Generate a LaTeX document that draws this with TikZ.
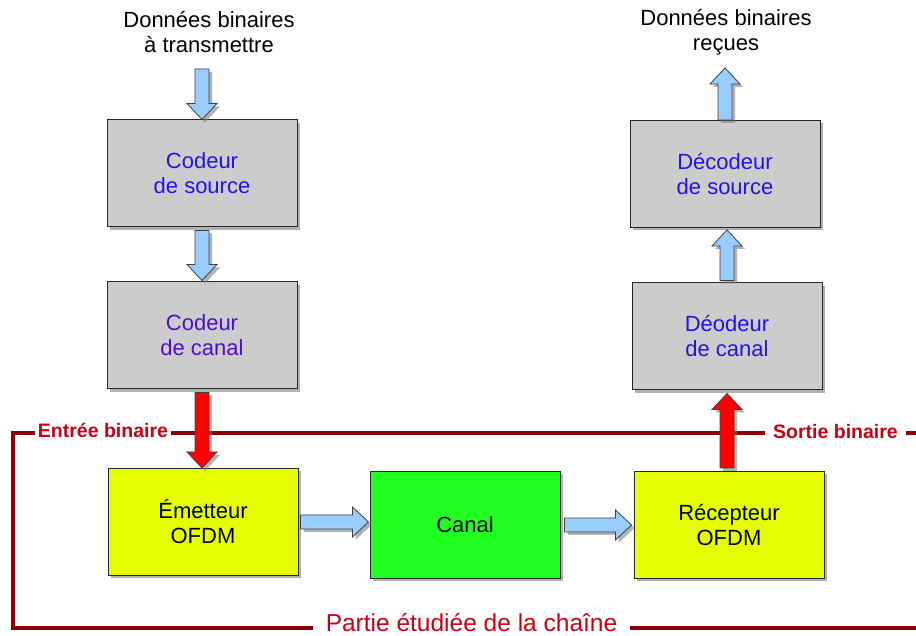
\documentclass[tikz,border=0pt]{standalone}
\usepackage{fontspec}
\setmainfont{Liberation Sans}
\usepackage{tikz}
\usetikzlibrary{calc,shadows}

\definecolor{gris}{RGB}{204,204,204}
\definecolor{jaune}{RGB}{230,255,0}
\definecolor{vert}{RGB}{32,255,32}
\definecolor{bleu}{RGB}{153,204,255}
\definecolor{rouge}{RGB}{255,0,0}
\definecolor{bordeaux}{RGB}{140,0,8}
\definecolor{rougetxt}{RGB}{200,0,24}
\definecolor{bleutxt}{RGB}{36,18,230}
\definecolor{violettxt}{RGB}{78,14,204}

\tikzset{
  ombre/.style={drop shadow={shadow xshift=3pt,shadow yshift=-3pt,fill=black!55,opacity=.55}},
  bloc/.style={draw=black!85, line width=1pt, minimum width=190pt, minimum height=107pt,
    align=center, font=\fontsize{22}{25}\selectfont, ombre},
  texte/.style={align=center, font=\fontsize{22}{25}\selectfont},
  etiq/.style={fill=white, text=rougetxt, anchor=base, inner xsep=3pt,
    font=\fontsize{19.5}{22}\selectfont\bfseries},
  cadre/.style={draw=bordeaux, line width=3.5pt, miter limit=10},
  fleche/.style={draw=black!75, line width=.8pt, fill=#1, ombre,
    to path={($(\tikztostart)!7pt!90:(\tikztotarget)$)
      -- ($(\tikztotarget)!16pt!(\tikztostart)!7pt!-90:(\tikztostart)$)
      -- ($(\tikztotarget)!16pt!(\tikztostart)!15pt!-90:(\tikztostart)$)
      -- (\tikztotarget)
      -- ($(\tikztotarget)!16pt!(\tikztostart)!15pt!90:(\tikztostart)$)
      -- ($(\tikztotarget)!16pt!(\tikztostart)!7pt!90:(\tikztostart)$)
      -- ($(\tikztostart)!7pt!-90:(\tikztotarget)$) -- cycle}},
}

\begin{document}
\begin{tikzpicture}[x=1pt,y=1pt]
\useasboundingbox (0,0) rectangle (916,636);

\node[texte] (entree) at (209,604) {Données binaires\\à transmettre};
\node[texte] (sortie) at (726,604) {Données binaires\\reçues};

\node[bloc, fill=gris, text=bleutxt] (csrc) at (202,462.5) {Codeur\\de source};
\node[bloc, fill=gris, text=violettxt] (ccan) at (202,300.5) {Codeur\\de canal};
\node[bloc, fill=jaune] (emet) at (203,114) {Émetteur\\OFDM};
\node[bloc, fill=vert] (canal) at (465,111) {Canal};
\node[bloc, fill=jaune] (recep) at (729,111) {Récepteur\\OFDM};
\node[bloc, fill=gris, text=bleutxt] (dcan) at (727,299.5) {Déodeur\\de canal};
\node[bloc, fill=gris, text=bleutxt] (dsrc) at (725,462) {Décodeur\\de source};

\coordinate (depart) at (202,567);
\coordinate (arrivee) at (725,568);

\draw[cadre] (916,203) -- (13,203) -- (13,8) -- (916,8);
\node[etiq] (lentree) at (103,198) {Entrée binaire};
\node[etiq, inner xsep=8pt] (lsortie) at (835.5,197) {Sortie binaire};
\node[fill=white, text=rougetxt, anchor=base, inner xsep=13pt,
  font=\fontsize{24.5}{28}\selectfont] (lpartie) at (471.5,4) {Partie étudiée de la chaîne};

\draw[fleche=bleu] (depart) to (csrc.north);
\draw[fleche=bleu] ([yshift=-3pt]csrc.south) to ([yshift=1pt]ccan.north);
\draw[fleche=rouge] ([yshift=-3pt]ccan.south) to (ccan.south |- emet.north);
\draw[fleche=bleu] ([xshift=2pt]emet.east) to ([xshift=-1pt]emet.east -| canal.west);
\draw[fleche=bleu] ([xshift=4pt]canal.east) to ([xshift=-2pt]recep.west);
\draw[fleche=rouge] ([yshift=3pt]recep.north -| dcan.south) to ([yshift=-3pt]dcan.south);
\draw[fleche=bleu] ([yshift=2pt]dcan.north) to ([yshift=-2pt]dcan.north |- dsrc.south);
\draw[fleche=bleu] (dsrc.north) to (arrivee);
\end{tikzpicture}
\end{document}
